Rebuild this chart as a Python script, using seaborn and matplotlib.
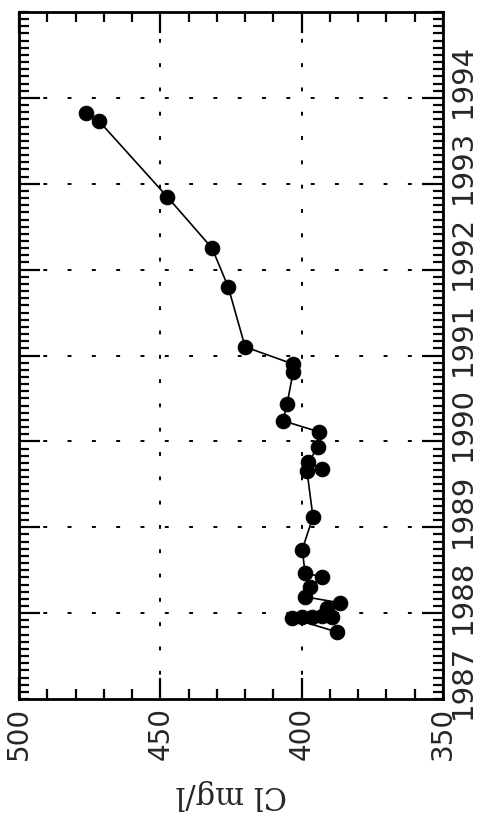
import seaborn as sns
import pandas as pd
import matplotlib.pyplot as plt
from matplotlib.ticker import MultipleLocator, FixedLocator, FuncFormatter

# chloride readings (mg/l) against sampling date (decimal year)
years = [1987.28, 1987.44, 1987.45, 1987.46, 1987.46, 1987.47, 1987.56, 1987.62,
         1987.69, 1987.81, 1987.92, 1987.97, 1988.24, 1988.62,
         1989.15, 1989.18, 1989.26, 1989.43, 1989.61, 1989.74, 1989.93,
         1990.31, 1990.40, 1990.60, 1991.30, 1991.75, 1992.35, 1993.23, 1993.32]
cl = [387.5, 403.4, 399.9, 389.3, 396.3, 392.8, 391.0, 386.4,
      398.8, 397.0, 392.8, 398.8, 399.8, 396.0,
      398.1, 392.8, 397.7, 394.2, 393.8, 406.6, 405.2,
      403.0, 403.0, 420.0, 426.0, 431.7, 447.6, 471.7, 476.3]
year_labels = [1987, 1988, 1989, 1990, 1991, 1992, 1993, 1994]
cl_ticks = [500, 450, 400, 350]

df = pd.DataFrame({"year": years, "cl": cl})

sns.set_style("ticks")
plt.rcParams['font.family'] = ['DejaVu Sans']

fig = plt.figure(figsize=(4.82, 8.17), dpi=100)
ax = fig.add_axes([19 / 482, 1 - 699 / 817, (443 - 19) / 482, (699 - 12) / 817])

sns.lineplot(data=df, x="cl", y="year", sort=False, estimator=None,
             color="black", linewidth=1.2, marker="o", markersize=10.5,
             markeredgecolor="black", ax=ax)

ax.set_xlim(cl_ticks[0], cl_ticks[-1])
ax.set_ylim(year_labels[0] - 0.5, year_labels[-1] + 0.5)

ax.xaxis.set_major_locator(FixedLocator(cl_ticks))
ax.xaxis.set_minor_locator(MultipleLocator(10))
ax.xaxis.set_major_formatter(FuncFormatter(lambda v, p: f"{v:.0f}"))

# year boundaries carry the grid, labels sit in the middle of each year
ax.yaxis.set_major_locator(FixedLocator([y + 0.5 for y in year_labels[:-1]]))
ax.yaxis.set_major_formatter(FuncFormatter(lambda v, p: ""))
ax.yaxis.set_minor_locator(FixedLocator([year_labels[0] - 0.5 + k / 12 for k in range(97)]))
ax.yaxis.set_minor_formatter(FuncFormatter(
    lambda v, p: f"{round(v)}" if abs(v - round(v)) < 1e-6 else ""))

ax.tick_params(axis="both", which="both", direction="in", top=True, bottom=True,
               left=True, right=True, color="black", width=1.6)
ax.tick_params(axis="both", which="major", length=15)
ax.tick_params(axis="both", which="minor", length=7)
ax.tick_params(axis="x", which="major", labelsize=20, labelrotation=90, pad=5.5)
ax.tick_params(axis="y", which="both", labelleft=False, labelright=True,
               labelsize=21, labelrotation=90, pad=4)

ax.grid(which="major", color="black", linestyle=(0, (2, 10.5)), linewidth=1.4)
for s in ax.spines.values():
    s.set_linewidth(2)
    s.set_color("black")

ax.set_ylabel("")
ax.set_xlabel("Cl mg/l", rotation=180, fontfamily="DejaVu Serif",
              fontsize=22, labelpad=14)

fig.savefig("out.png", dpi=100)
